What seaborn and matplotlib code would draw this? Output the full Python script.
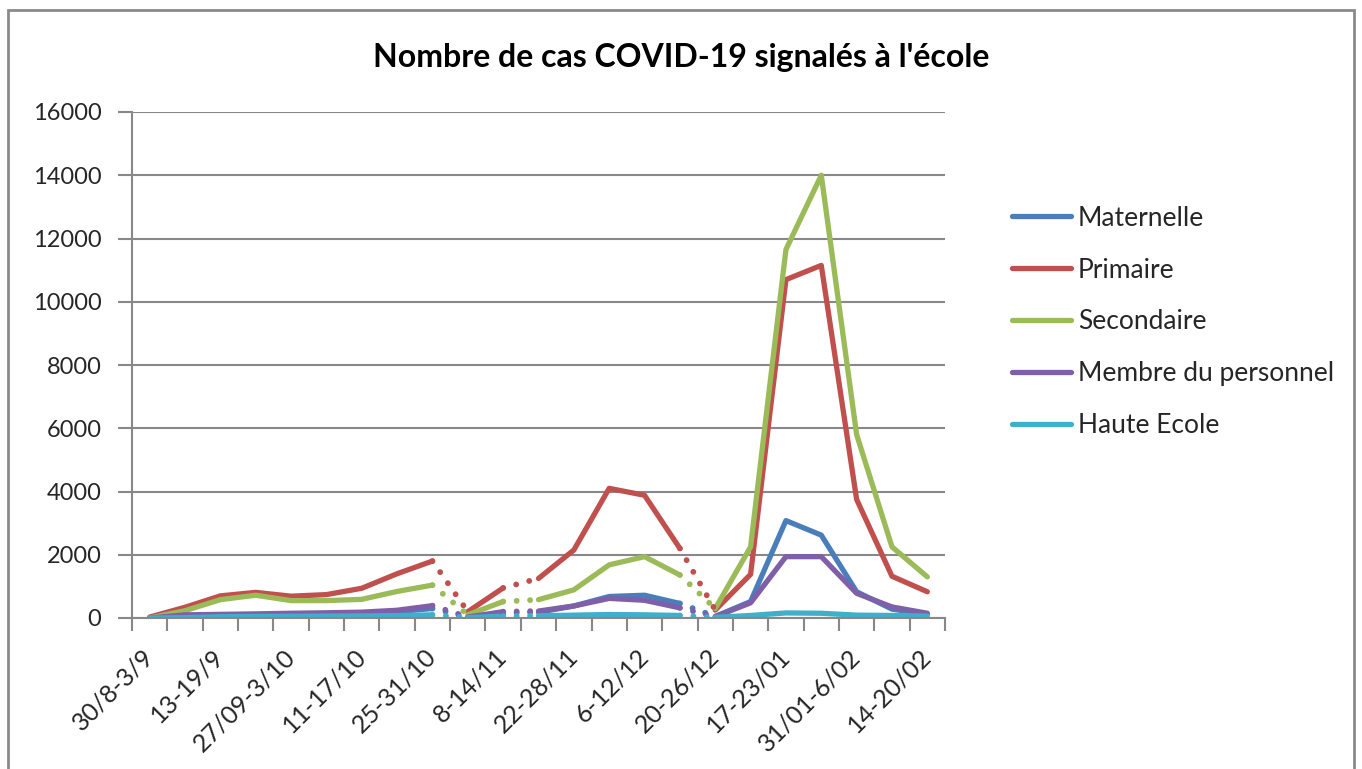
import numpy as np
import pandas as pd
import matplotlib
matplotlib.use("Agg")
import matplotlib.pyplot as plt
import seaborn as sns
from matplotlib.lines import Line2D
from matplotlib.patches import Rectangle

# ---------------- data ----------------
weeks = ["30/8-3/9", "6-12/9", "13-19/9", "20-26/9", "27/09-3/10", "4-10/10",
         "11-17/10", "18-24/10", "25-31/10", "1-7/11", "8-14/11", "15-21/11",
         "22-28/11", "29/11-5/12", "6-12/12", "13-19/12", "20-26/12", "10-16/01",
         "17-23/01", "24-30/01", "31/01-6/02", "7-13/02", "14-20/02"]

maternelle = [0, 50, 80, 100, 110, 120, 150, 200, 300, 30, 150, 180,
              380, 680, 720, 460, 50, 520, 3080, 2620, 830, 280, 120]
primaire = [30, 340, 700, 810, 690, 740, 940, 1400, 1800, 200, 950, 1250,
            2150, 4100, 3880, 2200, 250, 1380, 10700, 11150, 3750, 1320, 830]
secondaire = [0, 230, 580, 720, 550, 550, 590, 840, 1040, 100, 520, 580,
              890, 1680, 1940, 1360, 300, 2250, 11650, 14000, 5800, 2250, 1300]
personnel = [0, 100, 115, 130, 150, 165, 185, 245, 390, 30, 200, 220,
             380, 620, 560, 320, 40, 480, 1940, 1940, 780, 350, 150]
haute_ecole = [0, 10, 40, 50, 55, 60, 65, 75, 100, 10, 60, 70,
               90, 110, 100, 80, 20, 80, 160, 150, 90, 80, 60]

series_names = ["Maternelle", "Primaire", "Secondaire", "Membre du personnel", "Haute Ecole"]
series_values = [maternelle, primaire, secondaire, personnel, haute_ecole]
colors = ["#4A7EBB", "#C0504D", "#9BBB59", "#7F5FA8", "#3FAFCB"]

y_ticks = [0, 2000, 4000, 6000, 8000, 10000, 12000, 14000, 16000]
title = "Nombre de cas COVID-19 signalés à l'école"

# segments joined by solid lines and by dotted lines (holiday weeks)
solid_segments = [(0, 8), (9, 10), (11, 15), (16, 22)]
dotted_segments = [(8, 9), (10, 11), (15, 16)]

# ---------------- style ----------------
sns.set_theme(style="white")
plt.rcParams["font.family"] = ["Lato", "DejaVu Sans"]
GRID = "#888888"

W, H = 1362, 769
fig = plt.figure(figsize=(W / 100, H / 100), dpi=100)
fig.patch.set_facecolor("white")
ax = fig.add_axes([132 / W, 1 - 618 / H, (945 - 132) / W, (618 - 112) / H])


def build(segs):
    rows = []
    for name, vals in zip(series_names, series_values):
        for k, (a, b) in enumerate(segs):
            for i in range(a, b + 1):
                rows.append({"serie": name, "x": i, "cas": vals[i], "seg": k})
    return pd.DataFrame(rows)


palette = dict(zip(series_names, colors))
LW = 3.8

sns.lineplot(data=build(solid_segments), x="x", y="cas", hue="serie", units="seg",
             estimator=None, hue_order=series_names, palette=palette, lw=LW,
             legend=False, ax=ax, sort=False, solid_capstyle="round")
sns.lineplot(data=build(dotted_segments), x="x", y="cas", hue="serie", units="seg",
             estimator=None, hue_order=series_names, palette=palette, lw=4.2,
             legend=False, ax=ax, sort=False, linestyle=(0, (0.01, 2.3)),
             dash_capstyle="round")

# axes
ax.set_xlim(-0.5, len(weeks) - 0.5)
ax.set_ylim(0, 16000)
ax.set_xticks(range(0, len(weeks), 2))
ax.set_xticklabels(weeks[::2], rotation=45, ha="right", va="center",
                   rotation_mode="anchor", fontsize=18)
ax.set_xticks(np.arange(-0.5, len(weeks), 1), minor=True)
ax.tick_params(axis="x", which="major", length=0, pad=25)
ax.tick_params(axis="x", which="minor", length=9, width=1.5, color=GRID,
               direction="out", bottom=True)
ax.set_yticks(y_ticks)
ax.set_yticklabels([str(v) for v in y_ticks], fontsize=17)
ax.tick_params(axis="y", length=10, width=1.5, color=GRID, direction="out",
               pad=12, left=True)
ax.yaxis.grid(True, color=GRID, lw=1.5)
ax.xaxis.grid(False)
ax.set_axisbelow(True)
for s in ["top", "right"]:
    ax.spines[s].set_visible(False)
for s in ["left", "bottom"]:
    ax.spines[s].set_color(GRID)
    ax.spines[s].set_linewidth(1.5)
ax.set_xlabel("")
ax.set_ylabel("")

# title
fig.text(0.5, 1 - 57 / H, title, ha="center", va="center", fontsize=23,
         fontweight="bold", color="black")

# legend
handles = [Line2D([0], [0], color=c, lw=LW, solid_capstyle="round") for c in colors]
fig.legend(handles, series_names, loc="center left",
           bbox_to_anchor=(1012 / W, 1 - 322 / H), frameon=False, fontsize=19,
           handlelength=2.25, handletextpad=0.25, labelspacing=1.02,
           borderpad=0, borderaxespad=0)

# outer frame
fig.add_artist(Rectangle((8 / W, -0.02), (1354 - 8) / W, (H - 10) / H + 0.02,
                         transform=fig.transFigure, fill=False,
                         edgecolor="#8a8a8a", lw=2))

fig.savefig("out.png", dpi=100)
